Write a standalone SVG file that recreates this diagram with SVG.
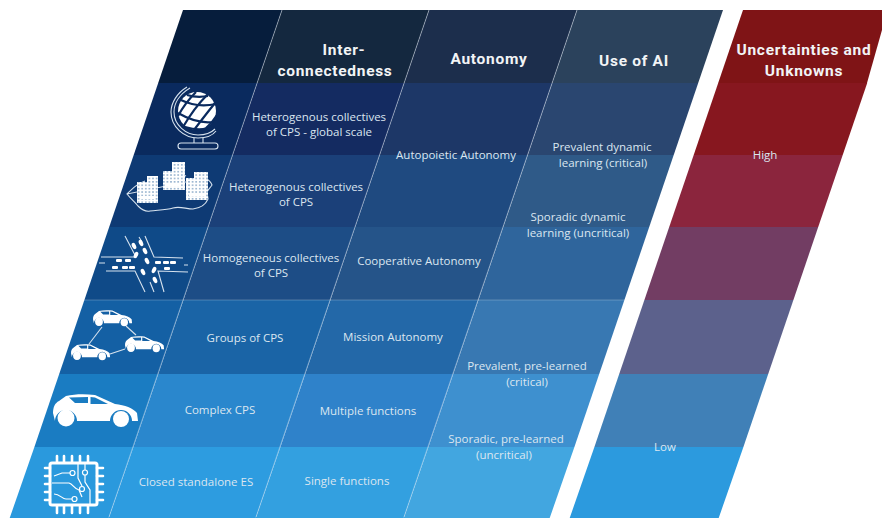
<svg xmlns="http://www.w3.org/2000/svg" width="882" height="518" viewBox="0 0 882 518">
<style>
.t{font-family:"Open Sans","Noto Sans",sans-serif;font-size:11.5px;fill:#dbe6f0;text-anchor:middle}
.h{font-family:"Roboto","Liberation Sans",sans-serif;font-weight:700;font-size:15.5px;letter-spacing:.7px;fill:#f2f4f6;text-anchor:middle}
.g{stroke:#dfe8f2;stroke-width:.8;opacity:.6;fill:none}
.hl{stroke:#dfe8f2;stroke-width:.8;opacity:.35;fill:none}
.w{fill:#fff}
.o{fill:none;stroke:#d6e2ee;stroke-width:1.1}
.s{fill:none;stroke:#fff;stroke-width:1.2}
.r{fill:#fff}
</style>
<defs>
<pattern id="win" width="3.6" height="3.4" patternUnits="userSpaceOnUse"><rect width="3.6" height="3.4" fill="#fff"/><rect x=".9" y="1" width="1.8" height="1.3" fill="#8aa9c9"/></pattern>
<path id="car" fill-rule="evenodd" fill="#fff" d="M2,27 L0,19 C0,13 2,9 6,7 L13,2 C22,0 32,0 42,1 L62,10 C72,11 80,14 84,19 L85,27 L79,27 A11,11 0 0 0 57,27 L24,27 A11,11 0 0 0 2,27 Z M16,3.500 L35,3 L35,9 L22,9 Z M37.500,3 L42,3.500 L55,10 L37.500,10 Z"/>
<g id="fullcar"><use href="#car"/><circle cx="13" cy="24" r="8.500" fill="#fff"/><circle cx="68" cy="25" r="8" fill="#fff"/></g>
</defs>

<g id="bands">
<polygon fill="#061d3c" points="183,10 282,10 257.200,83 158.200,83"/>
<polygon fill="#14283f" points="282,10 429,10 404.200,83 257.200,83"/>
<polygon fill="#1c2e4c" points="429,10 577,10 552.200,83 404.200,83"/>
<polygon fill="#2b425c" points="577,10 723,10 698.200,83 552.200,83"/>
<polygon fill="#0a2a5e" points="158.200,83 257.200,83 232.700,155 133.700,155"/>
<polygon fill="#142b61" points="257.200,83 404.200,83 379.700,155 232.700,155"/>
<polygon fill="#1d3767" points="404.200,83 552.200,83 527.700,155 379.700,155"/>
<polygon fill="#2a4670" points="552.200,83 698.200,83 673.700,155 527.700,155"/>
<polygon fill="#0e3a74" points="133.700,155 232.700,155 208.200,227 109.200,227"/>
<polygon fill="#1b4079" points="232.700,155 379.700,155 355.200,227 208.200,227"/>
<polygon fill="#1f4a80" points="379.700,155 527.700,155 503.200,227 355.200,227"/>
<polygon fill="#2f5a88" points="527.700,155 673.700,155 649.200,227 503.200,227"/>
<polygon fill="#0f4a88" points="109.200,227 208.200,227 183.400,300 84.400,300"/>
<polygon fill="#1d4d86" points="208.200,227 355.200,227 330.400,300 183.400,300"/>
<polygon fill="#255489" points="355.200,227 503.200,227 478.400,300 330.400,300"/>
<polygon fill="#2f659c" points="503.200,227 649.200,227 624.400,300 478.400,300"/>
<polygon fill="#1460a4" points="84.400,300 183.400,300 158.200,374 59.200,374"/>
<polygon fill="#1a64a6" points="183.400,300 330.400,300 305.200,374 158.200,374"/>
<polygon fill="#2368a8" points="330.400,300 478.400,300 453.200,374 305.200,374"/>
<polygon fill="#3878b2" points="478.400,300 624.400,300 599.200,374 453.200,374"/>
<polygon fill="#1a7cc2" points="59.200,374 158.200,374 133.400,447 34.400,447"/>
<polygon fill="#2a87cd" points="158.200,374 305.200,374 280.400,447 133.400,447"/>
<polygon fill="#2f82ca" points="305.200,374 453.200,374 428.400,447 280.400,447"/>
<polygon fill="#3e90cf" points="453.200,374 599.200,374 574.400,447 428.400,447"/>
<polygon fill="#2a99dd" points="34.400,447 133.400,447 108.700,518 9.700,518"/>
<polygon fill="#2d9ce0" points="133.400,447 280.400,447 255.700,518 108.700,518"/>
<polygon fill="#33a0e0" points="280.400,447 428.400,447 403.700,518 255.700,518"/>
<polygon fill="#42a6e0" points="428.400,447 574.400,447 549.700,518 403.700,518"/>
</g>
<g id="uncertainty">
<polygon fill="#7f1416" points="743,10 882,10 882,30 867,83 718.200,83"/>
<polygon fill="#87171f" points="718.200,83 867.200,83 842.700,155 693.700,155"/>
<polygon fill="#8b253d" points="693.700,155 842.700,155 818.200,227 669.200,227"/>
<polygon fill="#723d63" points="669.200,227 818.200,227 793.400,300 644.400,300"/>
<polygon fill="#5c618c" points="644.400,300 793.400,300 768.200,374 619.200,374"/>
<polygon fill="#4080b7" points="619.200,374 768.200,374 743.400,447 594.400,447"/>
<polygon fill="#2c9ade" points="594.400,447 743.400,447 718.700,518 569.700,518"/>
</g>
<g id="connectors">
<line class="g" x1="282" y1="10" x2="109" y2="517"/>
<line class="g" x1="429" y1="10" x2="256" y2="517"/>
<line class="g" x1="577" y1="10" x2="404" y2="517"/>
<line class="hl" x1="84" y1="300" x2="625" y2="300"/>
</g>

<g id="globe">
<circle class="w" cx="197" cy="111" r="19"/>
<g stroke="#0a2a5e" stroke-width="2.200" fill="none">
<path d="M181,100 Q197,108 216,104"/><path d="M178,113 Q197,124 213,122"/><path d="M185,127 Q199,131 207,128"/><path d="M187,95 Q197,98 208,96"/>
<path d="M208,94 Q194,108 183,127"/><path d="M215,103 Q203,118 194,130"/><path d="M196,92 Q185,103 178,116"/><path d="M217,115 Q212,123 206,128"/>
</g>
<path class="o" d="M187,87 C177,93 171,103 171,112 C171,127 184,138 198,138 C206,138 213,135 216,131"/>
<path class="o" d="M190,88 C180,94 174,103 174,112 C174,125 186,135 198,135 C205,135 211,133 215,129"/>
<rect class="o" x="178" y="143" width="40" height="6" rx="3"/>
<path class="o" d="M194,138 L194,143 M203,138 L203,143"/>
</g>

<g id="city">
<path class="o" d="M127,194 C133,188 137,184 145,181 M165,176 C170,173 180,173 186,176 M205,178 C209,180 211,182 212,185 C210,188 208,190 207,192 L208,199 C205,206 200,208 193,209 C186,209 180,206 173,208 C166,210 158,210 150,211 C145,212 141,209 138,206 C134,201 130,198 127,194 Z"/>
<rect x="137" y="182" width="11" height="21" fill="url(#win)"/>
<rect x="147" y="176" width="11" height="27" fill="url(#win)"/>
<rect x="140" y="196" width="15" height="3" fill="#fff"/>
<rect x="163" y="171" width="9" height="19" fill="url(#win)"/>
<rect x="172" y="162" width="13" height="28" fill="url(#win)"/>
<rect x="165" y="183" width="16" height="3" fill="#fff"/>
<rect x="186" y="178" width="8" height="22" fill="url(#win)"/>
<rect x="194" y="172" width="14" height="28" fill="url(#win)"/>
<rect x="189" y="193" width="16" height="3" fill="#fff"/>
</g>

<g id="intersection">
<path class="o" d="M125,236 L136,257 L101,257 M145,236 L154,257 L183,258 M106,271 L135,271 L145,292 M188,272 L158,271 L164,292"/>
<path class="o" d="M99,263 L105,263 M184,265 L188,265 M150,282 L154,292 M139,237 L142,242"/>
<g class="r">
<rect x="116" y="259" width="6" height="3" rx="1"/><rect x="125" y="259" width="6" height="3" rx="1"/><rect x="112" y="266" width="6" height="3" rx="1"/><rect x="122" y="266" width="6" height="3" rx="1"/><rect x="129" y="266" width="6" height="3" rx="1"/>
<rect x="155" y="261" width="6" height="3" rx="1"/><rect x="163" y="261" width="6" height="3" rx="1"/><rect x="170" y="261" width="6" height="3" rx="1"/><rect x="164" y="267" width="6" height="3" rx="1"/>
<ellipse cx="134" cy="246" rx="2" ry="3.400" transform="rotate(-25 134 246)"/><ellipse cx="141" cy="243" rx="2" ry="3.400" transform="rotate(-25 141 243)"/><ellipse cx="145" cy="251" rx="2" ry="3.400" transform="rotate(-25 145 251)"/><ellipse cx="136" cy="255" rx="2" ry="3.400" transform="rotate(25 136 255)"/><ellipse cx="147" cy="261" rx="2" ry="3.400" transform="rotate(-25 147 261)"/><ellipse cx="143" cy="272" rx="2" ry="3.400" transform="rotate(-25 143 272)"/><ellipse cx="154" cy="270" rx="2" ry="3.400" transform="rotate(25 154 270)"/><ellipse cx="155" cy="280" rx="2" ry="3.400" transform="rotate(-25 155 280)"/>
</g>
</g>

<g id="car-group">
<line class="o" x1="102" y1="327" x2="89" y2="344"/><line class="o" x1="126" y1="326" x2="136" y2="335"/><line class="o" x1="110" y1="354" x2="125" y2="349"/>
<use href="#fullcar" transform="translate(93 310) scale(.46 .49)"/>
<use href="#fullcar" transform="translate(125 336) scale(.46 .49)"/>
<use href="#fullcar" transform="translate(71 344) scale(.46 .49)"/>
</g>

<g id="complex-car"><use href="#fullcar" transform="translate(53 394)"/></g>

<g id="chip">
<rect x="50" y="463" width="47" height="42" rx="2" fill="none" stroke="#fff" stroke-width="3"/>
<path stroke="#fff" stroke-width="2.600" fill="none" stroke-linecap="round" d="M57,456 V462 M64,456 V462 M72,456 V462 M80,456 V462 M88,456 V462 M57,506 V513 M64,506 V513 M72,506 V513 M80,506 V513 M88,506 V513 M45,468 H50 M45,476 H50 M45,484 H50 M45,492 H50 M45,500 H50 M97,468 H103 M97,476 H103 M97,484 H103 M97,492 H103 M97,500 H103"/>
<g class="s">
<path d="M54,476 L62,473 H70"/><circle cx="72.500" cy="473" r="2.500"/>
<path d="M52,483 H69 C73,484 74,489 79,490 L82,497"/>
<path d="M54,494 C60,494 62,499 66,499 H72"/><circle cx="74.500" cy="499" r="2.500"/>
<path d="M78,463 V478 L82,486"/><circle cx="82" cy="489" r="2.500"/>
<path d="M85,463 V470"/><circle cx="85" cy="472.500" r="2.500"/>
<path d="M85,475 V482 L90,490 V505"/>
</g>
</g>

<g id="headers">
<text class="h" x="344" y="55">Inter-</text>
<text class="h" x="335" y="76">connectedness</text>
<text class="h" x="489" y="64">Autonomy</text>
<text class="h" x="634" y="66">Use of AI</text>
<text class="h" x="804" y="55">Uncertainties and</text>
<text class="h" x="804" y="76">Unknowns</text>
</g>
<g id="labels">
<text class="t" x="319" y="121">Heterogenous collectives</text><text class="t" x="319" y="136">of CPS - global scale</text>
<text class="t" x="296" y="191">Heterogenous collectives</text><text class="t" x="296" y="206">of CPS</text>
<text class="t" x="271" y="262">Homogeneous collectives</text><text class="t" x="271" y="277">of CPS</text>
<text class="t" x="245" y="342">Groups of CPS</text>
<text class="t" x="220" y="414">Complex CPS</text>
<text class="t" x="196" y="486">Closed standalone ES</text>
<text class="t" x="456" y="159">Autopoietic Autonomy</text>
<text class="t" x="419" y="265">Cooperative Autonomy</text>
<text class="t" x="393" y="341">Mission Autonomy</text>
<text class="t" x="368" y="415">Multiple functions</text>
<text class="t" x="347" y="485">Single functions</text>
<text class="t" x="602" y="151">Prevalent dynamic</text><text class="t" x="603" y="167">learning (critical)</text>
<text class="t" x="578" y="221">Sporadic dynamic</text><text class="t" x="578" y="237">learning (uncritical)</text>
<text class="t" x="527" y="370">Prevalent, pre-learned</text><text class="t" x="527" y="386">(critical)</text>
<text class="t" x="506" y="443">Sporadic, pre-learned</text><text class="t" x="504" y="459">(uncritical)</text>
<text class="t" x="765" y="159">High</text>
<text class="t" x="665" y="451">Low</text>
</g>
</svg>
